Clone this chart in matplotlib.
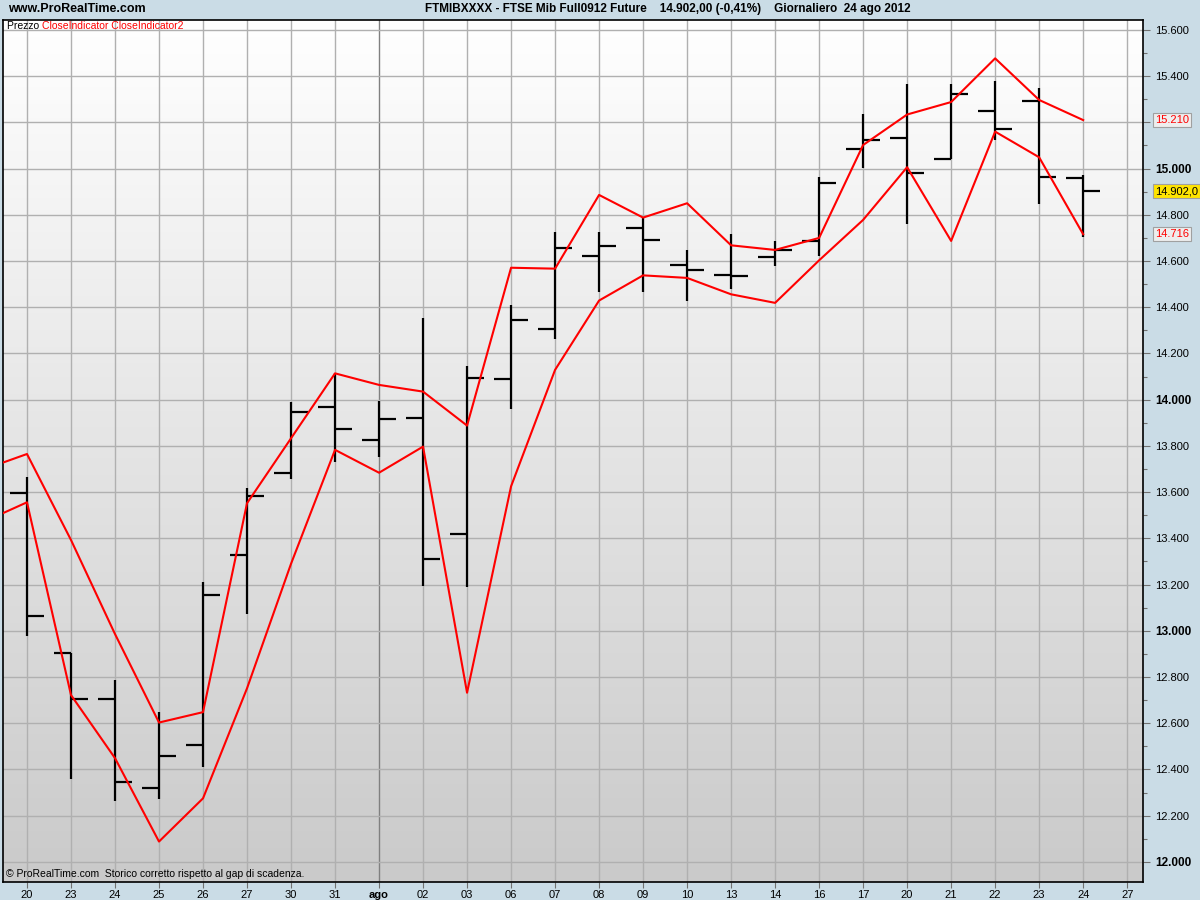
import numpy as np
import matplotlib
matplotlib.use("Agg")
from matplotlib import pyplot as plt
from matplotlib.colors import LinearSegmentedColormap
from matplotlib.transforms import blended_transform_factory

plt.rcParams['font.family'] = ['Liberation Sans', 'DejaVu Sans']

#Session labels on the x axis (the last one is an empty future slot)
dates = ["20", "23", "24", "25", "26", "27", "30", "31", "ago", "02", "03", "06", "07",
         "08", "09", "10", "13", "14", "16", "17", "20", "21", "22", "23", "24", "27"]

#Daily bars: open, high, low, close
opens = [13598, 12903, 12706, 12321, 12507, 13330, 13684, 13970, 13826, 13922, 13419, 14090, 14307,
         14623, 14743, 14583, 14540, 14619, 14687, 15086, 15134, 15043, 15251, 15294, 14961]
highs = [13664, 12903, 12787, 12650, 13210, 13617, 13989, 14117, 13995, 14352, 14146, 14410, 14726,
         14726, 14792, 14648, 14716, 14687, 14965, 15236, 15366, 15366, 15379, 15348, 14971]
lows = [12979, 12358, 12265, 12271, 12412, 13072, 13656, 13732, 13754, 13195, 13188, 13961, 14262,
        14468, 14468, 14429, 14481, 14580, 14623, 15004, 14759, 15043, 15124, 14846, 14706]
closes = [13066, 12706, 12347, 12460, 13156, 13585, 13948, 13875, 13918, 13312, 14095, 14345, 14658,
          14665, 14691, 14563, 14537, 14648, 14939, 15123, 14983, 15322, 15173, 14965, 14902]

#The two indicators, starting one session before the first bar
upper = [13697, 13765, 13393, 12986, 12603, 12648, 13552, 13833, 14114, 14064, 14035, 13888, 14571,
         14567, 14886, 14788, 14850, 14668, 14648, 14700, 15102, 15234, 15288, 15477, 15297, 15210]
lower = [13470, 13556, 12722, 12449, 12088, 12275, 12751, 13290, 13783, 13684, 13797, 12732, 13625,
         14129, 14429, 14538, 14527, 14456, 14419, 14603, 14778, 15006, 14687, 15160, 15049, 14716]

last_price = "14.902,0"

bg = '#CADCE6'
fig = plt.figure(figsize=(12, 9), dpi=100)
fig.patch.set_facecolor(bg)
ax = fig.add_axes([3 / 1200, 18 / 900, 1140 / 1200, 862 / 900])

xmin, xmax = -0.545, 25.36
ymin, ymax = 11913, 15643

#Background gradient, white at the top to grey at the bottom
cmap = LinearSegmentedColormap.from_list("bg", ['#CACACA', '#FFFFFF'])
ax.imshow(np.linspace(1, 0, 256).reshape(-1, 1), cmap=cmap, aspect='auto',
          extent=[xmin, xmax, ymin, ymax], zorder=0, vmin=0, vmax=1)

#Grid
for i, d in enumerate(dates):
    col = '#808080' if d == "ago" else '#B0B0B0'
    ax.axvline(i, color=col, lw=1, zorder=1)
for v in range(12000, 15601, 200):
    ax.axhline(v, color='#B0B0B0', lw=1, zorder=1)

#Price bars
x = np.arange(len(opens))
tick = 0.39
ax.vlines(x, lows, highs, color='black', lw=1.6, zorder=3)
ax.hlines(opens, x - tick, x, color='black', lw=1.6, zorder=3)
ax.hlines(closes, x, x + tick, color='black', lw=1.6, zorder=3)

#Indicator lines
xi = np.arange(-1, len(upper) - 1)
ax.plot(xi, upper, color='#FF0000', lw=1.5, zorder=4)
ax.plot(xi, lower, color='#FF0000', lw=1.5, zorder=4)

ax.set_xlim(xmin, xmax)
ax.set_ylim(ymin, ymax)

#Axes look
for s in ax.spines.values():
    s.set_color('black')
    s.set_linewidth(1.2)
ax.yaxis.tick_right()
ax.set_yticks(range(12000, 15601, 200))
ax.set_yticks(range(12100, 15601, 200), minor=True)
ylabels = []
for v in range(12000, 15601, 200):
    #the 15.200 label sits under the indicator value box
    if v == 15200:
        ylabels.append("")
    else:
        ylabels.append(f"{v // 1000}.{v % 1000:03d}")
ax.set_yticklabels(ylabels, fontsize=8)
for lab, v in zip(ax.get_yticklabels(), range(12000, 15601, 200)):
    if v % 1000 == 0:
        lab.set_fontweight('bold')
        lab.set_fontsize(8.5)
ax.tick_params(axis='y', which='major', length=5, width=0.8, color='#707070', pad=4)
ax.tick_params(axis='y', which='minor', length=3, width=0.8, color='#707070')

ax.set_xticks(range(len(dates)))
ax.set_xticklabels(dates, fontsize=8)
for lab, d in zip(ax.get_xticklabels(), dates):
    if d == "ago":
        lab.set_fontweight('bold')
ax.tick_params(axis='x', length=4, width=0.8, color='#707070', pad=2)

#Value boxes on the price axis
tr = blended_transform_factory(ax.transAxes, ax.transData)
ax.text(1.0105, upper[-1], f"{upper[-1] // 1000}.{upper[-1] % 1000:03d}", transform=tr, color='red',
        fontsize=8, va='center', ha='left', zorder=6,
        bbox=dict(boxstyle='square,pad=0.2', fc='#EEEEEE', ec='#A0A0A0', lw=0.8))
ax.text(1.0105, lower[-1], f"{lower[-1] // 1000}.{lower[-1] % 1000:03d}", transform=tr, color='red',
        fontsize=8, va='center', ha='left', zorder=6,
        bbox=dict(boxstyle='square,pad=0.2', fc='#EEEEEE', ec='#A0A0A0', lw=0.8))
ax.text(1.0105, closes[-1], last_price, transform=tr, color='black',
        fontsize=8, va='center', ha='left', zorder=6, clip_on=False,
        bbox=dict(boxstyle='square,pad=0.2', fc='#FFE400', ec='#A0A0A0', lw=0.8))

#Legend and footer
t1 = ax.text(4 / 1140, 1 - 6 / 862, "Prezzo ", transform=ax.transAxes, fontsize=7.5,
             va='center', ha='left', zorder=6)
ax.annotate("CloseIndicator CloseIndicator2", xy=(1, 0.5), xycoords=t1, fontsize=7.5,
            color='red', va='center', ha='left', zorder=6)
ax.text(3 / 1140, 8 / 862, "\u00a9 ProRealTime.com  Storico corretto rispetto al gap di scadenza.",
        transform=ax.transAxes, fontsize=7.5, va='center', ha='left', zorder=6)

#Header
fig.text(8 / 1200, 1 - 9 / 900, "www.ProRealTime.com", fontsize=9, fontweight='bold',
         va='center', ha='left')
fig.text(425 / 1200, 1 - 9 / 900,
         "FTMIBXXXX - FTSE Mib Full0912 Future    14.902,00 (-0,41%)    Giornaliero  24 ago 2012",
         fontsize=8.5, fontweight='bold', va='center', ha='left')

fig.savefig("out.png", dpi=100, facecolor=bg)
